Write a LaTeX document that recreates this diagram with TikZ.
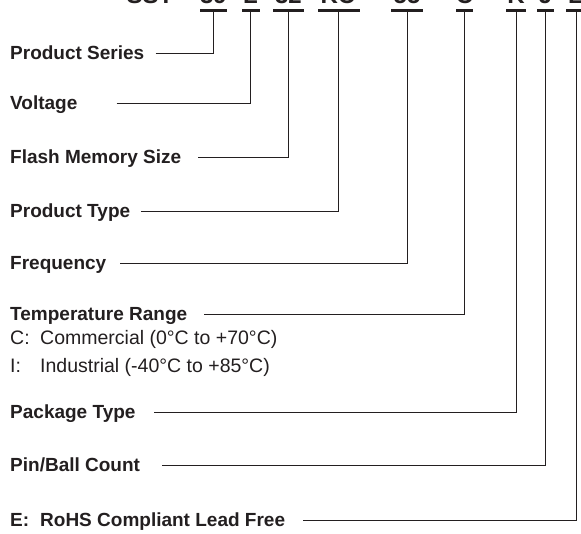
\documentclass[tikz,border=0pt]{standalone}
\usepackage{fontspec}
\setmainfont{Liberation Sans}
\definecolor{ink}{HTML}{231F20}
\begin{document}
\begin{tikzpicture}[x=1pt,y=-1pt,
  lab/.style={anchor=west, inner sep=0pt, font=\bfseries\fontsize{19}{22}\selectfont, text height=13.6pt, text depth=0pt, text=ink},
  desc/.style={anchor=west, inner sep=0pt, font=\fontsize{19.5}{22}\selectfont, text height=14pt, text depth=0pt, text=ink},
  code/.style={anchor=base, inner sep=0pt, font=\bfseries\fontsize{24}{28}\selectfont, text=ink},
  bar/.style={fill=ink, inner sep=0pt, minimum height=2.2pt},
  conn/.style={draw=ink, line width=0.9pt}]
\useasboundingbox (0,0) rectangle (581,534);
\fill[white] (0,0) rectangle (581,534);

% part number (cut off at the top)
\node[code] (c0) at (150,3.5) {SST};
\node[code] (c1) at (213.5,3.5) {39};
\node[code] (c2) at (250.5,3.5) {L};
\node[code] (c3) at (288.5,3.5) {32};
\node[code] (c4) at (338,3.5) {KC};
\node[code] (c5) at (407,3.5) {55};
\node[code] (c6) at (464.5,3.5) {C};
\node[code] (c7) at (516,3.5) {K};
\node[code] (c8) at (545.5,3.5) {J};
\node[code] (c9) at (576,3.5) {E};

% underline bars
\node[bar, minimum width=27pt] (t1) at (213.5,10.5) {};
\node[bar, minimum width=18pt] (t2) at (250.5,10.5) {};
\node[bar, minimum width=31pt] (t3) at (288.5,10.5) {};
\node[bar, minimum width=42pt] (t4) at (338.5,10.5) {};
\node[bar, minimum width=32pt] (t5) at (407,10.5) {};
\node[bar, minimum width=17pt] (t6) at (464.5,10.5) {};
\node[bar, minimum width=20pt] (t7) at (516,10.5) {};
\node[bar, minimum width=17pt] (t8) at (545.5,10.5) {};
\node[bar, minimum width=20pt] (t9) at (576,10.5) {};

% labels
\node[lab] (l1) at (10,53) {Product Series};
\node[lab] (l2) at (10,103) {Voltage};
\node[lab] (l3) at (10,157) {Flash Memory Size};
\node[lab] (l4) at (10,211) {Product Type};
\node[lab] (l5) at (10,263) {Frequency};
\node[lab] (l6) at (10,314) {Temperature Range};
\node[desc] (d1) at (10,338) {\makebox[30pt][l]{C:}Commercial (0°C to +70°C)};
\node[desc] (d2) at (10,366) {\makebox[30pt][l]{I:}Industrial (-40°C to +85°C)};
\node[lab] (l7) at (10,412) {Package Type};
\node[lab] (l8) at (10,465) {Pin/Ball Count};
\node[lab] (l9) at (10,520) {E:\hspace{11pt}RoHS Compliant Lead Free};

% connectors
\draw[conn] ([xshift=11pt]l1.east) -| (t1.south);
\draw[conn] ([xshift=39pt]l2.east) -| (t2.south);
\draw[conn] ([xshift=17pt]l3.east) -| (t3.south);
\draw[conn] ([xshift=10.6pt]l4.east) -| (t4.south);
\draw[conn] ([xshift=14pt]l5.east) -| (t5.south);
\draw[conn] ([xshift=16.6pt]l6.east) -| (t6.south);
\draw[conn] ([xshift=18.3pt]l7.east) -| (t7.south);
\draw[conn] ([xshift=22pt]l8.east) -| (t8.south);
\draw[conn] ([xshift=18pt]l9.east) -| (t9.south);
\end{tikzpicture}
\end{document}
